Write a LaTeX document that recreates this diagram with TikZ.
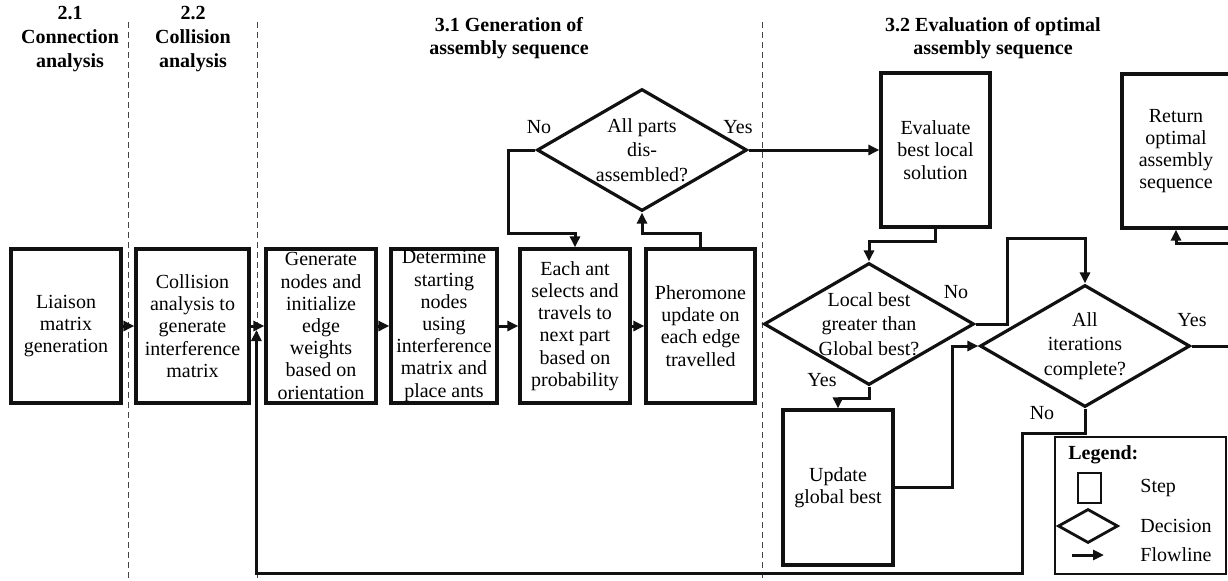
\documentclass[tikz,border=0pt]{standalone}
\usepackage{fontspec}
\setmainfont{Liberation Serif}
\usepackage{xcolor}
\usepackage{tikz}
\usetikzlibrary{shapes.geometric,arrows.meta}
\definecolor{ASInk}{HTML}{111111}
\definecolor{ASSep}{HTML}{444444}

\begin{document}
\begin{tikzpicture}[x=0.5pt,y=-0.5pt,
  stepbox/.style={draw=ASInk,line width=1.6pt,align=center,inner xsep=1pt,inner ysep=0pt,minimum height=77pt,font=\fontsize{10}{11.1}\selectfont},
  decision/.style={draw=ASInk,line width=1.6pt,diamond,aspect=1.72,align=center,inner sep=0pt,minimum width=105pt,minimum height=61pt,font=\fontsize{10}{12.2}\selectfont},
  flow/.style={draw=ASInk,line width=1.5pt,-{Triangle[length=5.5pt,width=5pt]}},
  heading/.style={align=center,font=\fontsize{10}{11.8}\selectfont\bfseries},
  lbl/.style={inner sep=0pt,font=\fontsize{10}{12}\selectfont},
  sep/.style={draw=ASSep,line width=0.5pt,dash pattern=on 3pt off 2pt}]
\path[use as bounding box] (0,0) rectangle (1228,580);
\clip (0,0) rectangle (1228,580);
% section separators
\draw[sep] (128,22) -- (128,580);
\draw[sep] (257,22) -- (257,580);
\draw[sep] (762,22) -- (762,580);
% headings
\node[heading] (h21) at (70,39) {2.1\\Connection\\analysis};
\node[heading] (h22) at (193,39) {2.2\\Collision\\analysis};
\node[heading] (h31) at (509,38) {3.1 Generation of\\assembly sequence};
\node[heading] (h32) at (993,38) {3.2 Evaluation of optimal\\assembly sequence};
% steps
\node[stepbox,minimum width=55pt] (liaison) at (66,326) {Liaison\\matrix\\generation};
\node[stepbox,minimum width=56.5pt] (collision) at (192.5,326) {Collision\\analysis to\\generate\\interference\\matrix};
\node[stepbox,minimum width=55pt] (generate) at (321,326) {Generate\\nodes and\\initialize\\edge\\weights\\based on\\orientation};
\node[stepbox,minimum width=53pt] (determine) at (444,326) {Determine\\starting\\nodes\\using\\interference\\matrix and\\place ants};
\node[stepbox,minimum width=55pt] (eachant) at (575,326) {Each ant\\selects and\\travels to\\next part\\based on\\probability};
\node[stepbox,minimum width=54.5pt] (pheromone) at (700.5,326) {Pheromone\\update on\\each edge\\travelled};
\node[stepbox,minimum width=54.5pt] (evaluate) at (935.5,150) {Evaluate\\best local\\solution};
\node[stepbox,minimum width=54pt] (retn) at (1176,151) {Return\\optimal\\assembly\\sequence};
\node[stepbox,minimum width=55pt,minimum height=77.5pt] (update) at (838,487.5) {Update\\global best};
% decisions
\node[decision] (parts) at (642,150) {All parts\\dis-\\assembled?};
\node[decision] (local) at (869,324) {Local best\\greater than\\Global best?};
\node[decision] (iter) at (1085,346) {All\\iterations\\complete?};
% branch labels
\node[lbl] (noparts) at (539,127) {No};
\node[lbl] (yesparts) at (738,127) {Yes};
\node[lbl] (nolocal) at (956,292) {No};
\node[lbl] (yeslocal) at (822,380) {Yes};
\node[lbl] (yesiter) at (1192,320) {Yes};
\node[lbl] (noiter) at (1042,413) {No};
% flowlines
\draw[flow] (liaison) -- (collision);
\draw[flow] (collision) -- (generate);
\draw[flow] (generate) -- (determine);
\draw[flow] (determine) -- (eachant);
\draw[flow] (eachant) -- (pheromone);
\draw[flow] (pheromone.north) -- ([yshift=7pt]pheromone.north) -| (parts.south);
\draw[flow] (parts.west) -- ++(-27,0) |- ([yshift=7pt]eachant.north) -- (eachant.north);
\draw[flow] (parts.east) -- (evaluate.west);
\draw[flow] (evaluate.south) -- ([yshift=-6.5pt]evaluate.south) -| (local.north);
\draw[flow] (local.east) -- ++(32,0) |- ([yshift=22.5pt]iter.north) -- (iter.north);
\draw[flow] (local.south) -- ([yshift=-6pt]local.south) -| (update.north);
\draw[flow] (update.east) -- ++(58,0) |- (iter.west);
\draw[flow] (iter.east) -- ++(50,0) |- ([yshift=-7pt]retn.south) -- (retn.south);
\draw[flow] (iter.south) -- ++(0,25) -| ++(-63,140) -| ([xshift=-4pt,yshift=-2pt]generate.west);
% legend
\node[draw=ASInk,line width=1.4pt,minimum width=85.5pt,minimum height=68.5pt,inner sep=0pt] (legend) at (1140.5,505.5) {};
\node[lbl,anchor=west,font=\fontsize{10}{12}\selectfont\bfseries] (legtitle) at (1068,455) {Legend:};
\node[draw=ASInk,line width=1.4pt,minimum width=11.5pt,minimum height=15pt,inner sep=0pt] (legstep) at (1089.5,488) {};
\node[lbl,anchor=west] (legsteptxt) at (1140,488) {Step};
\node[draw=ASInk,line width=1.4pt,diamond,aspect=1.76,minimum width=30pt,minimum height=17pt,inner sep=0pt] (legdec) at (1088,526) {};
\node[lbl,anchor=west] (legdectxt) at (1140,526) {Decision};
\coordinate (legflowA) at (1072,555);
\coordinate (legflowB) at (1104,555);
\draw[flow] (legflowA) -- (legflowB);
\node[lbl,anchor=west] (legflowtxt) at (1140,555) {Flowline};
\end{tikzpicture}
\end{document}
